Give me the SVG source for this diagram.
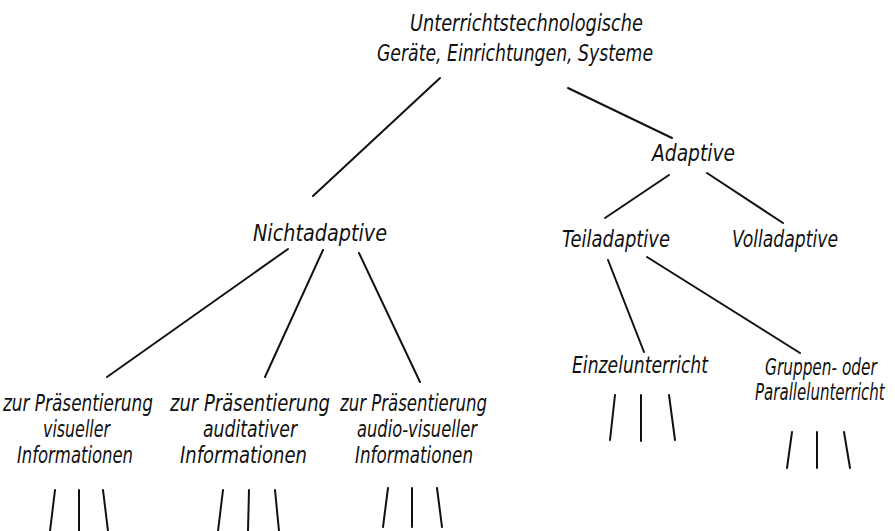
<svg xmlns="http://www.w3.org/2000/svg" width="895" height="531" viewBox="0 0 895 531">
  <style>
    .lbl { font-family: "Liberation Sans Narrow", "DejaVu Sans Condensed", "Liberation Sans", sans-serif; font-style: italic; font-size: 23px; fill: #111; }
    .edge { stroke: #111; stroke-width: 2; stroke-linecap: round; fill: none; }
  </style>
  <rect width="895" height="531" fill="#fff"/>

  <g id="connectors">
    <line class="edge" x1="440" y1="78" x2="313" y2="196"/>
    <line class="edge" x1="568" y1="88" x2="672" y2="138"/>
    <line class="edge" x1="669" y1="175" x2="605" y2="218"/>
    <line class="edge" x1="707" y1="173" x2="783" y2="223"/>
    <line class="edge" x1="608" y1="260" x2="644" y2="352"/>
    <line class="edge" x1="647" y1="257" x2="800" y2="353"/>
    <line class="edge" x1="288" y1="249" x2="107" y2="377"/>
    <line class="edge" x1="323" y1="250" x2="265" y2="377"/>
    <line class="edge" x1="359" y1="253" x2="420" y2="382"/>
    <!-- open-ended branches -->
    <line class="edge" x1="615" y1="395" x2="610" y2="440"/>
    <line class="edge" x1="641" y1="395" x2="641" y2="441"/>
    <line class="edge" x1="669" y1="395" x2="675" y2="440"/>
    <line class="edge" x1="792" y1="432" x2="787" y2="468"/>
    <line class="edge" x1="817" y1="432" x2="817" y2="468"/>
    <line class="edge" x1="844" y1="432" x2="850" y2="468"/>
    <line class="edge" x1="55" y1="490" x2="50" y2="531"/>
    <line class="edge" x1="79" y1="490" x2="79" y2="531"/>
    <line class="edge" x1="103" y1="490" x2="108" y2="531"/>
    <line class="edge" x1="223" y1="490" x2="218" y2="531"/>
    <line class="edge" x1="249" y1="490" x2="248" y2="531"/>
    <line class="edge" x1="275" y1="490" x2="279" y2="531"/>
    <line class="edge" x1="388" y1="488" x2="383" y2="527"/>
    <line class="edge" x1="412" y1="488" x2="412" y2="527"/>
    <line class="edge" x1="437" y1="488" x2="442" y2="527"/>
  </g>

  <g id="root">
    <text class="lbl" x="410" y="31" textLength="233" lengthAdjust="spacingAndGlyphs">Unterrichtstechnologische</text>
    <text class="lbl" x="377" y="61" textLength="276" lengthAdjust="spacingAndGlyphs">Geräte, Einrichtungen, Systeme</text>
  </g>
  <g id="nichtadaptive">
    <text class="lbl" x="253" y="241" textLength="134" lengthAdjust="spacingAndGlyphs">Nichtadaptive</text>
  </g>
  <g id="adaptive">
    <text class="lbl" x="652" y="161" textLength="83" lengthAdjust="spacingAndGlyphs">Adaptive</text>
  </g>
  <g id="teiladaptive">
    <text class="lbl" x="562" y="247" textLength="108" lengthAdjust="spacingAndGlyphs">Teiladaptive</text>
  </g>
  <g id="volladaptive">
    <text class="lbl" x="838" y="247" text-anchor="end" textLength="106" lengthAdjust="spacingAndGlyphs">Volladaptive</text>
  </g>
  <g id="einzelunterricht">
    <text class="lbl" x="572" y="373" textLength="136" lengthAdjust="spacingAndGlyphs">Einzelunterricht</text>
  </g>
  <g id="gruppenunterricht">
    <!-- narrowed horizontally so both lines sit inside the right margin -->
    <text class="lbl" transform="translate(765,375) scale(0.75,1)" x="0" y="0" textLength="149" lengthAdjust="spacingAndGlyphs">Gruppen- oder</text>
    <text class="lbl" transform="translate(755,400) scale(0.75,1)" x="0" y="0" textLength="173" lengthAdjust="spacingAndGlyphs">Parallelunterricht</text>
  </g>
  <g id="visuell">
    <text class="lbl" x="3" y="411" textLength="150" lengthAdjust="spacingAndGlyphs">zur Präsentierung</text>
    <text class="lbl" x="43" y="437" textLength="67" lengthAdjust="spacingAndGlyphs">visueller</text>
    <text class="lbl" x="17" y="463" textLength="116" lengthAdjust="spacingAndGlyphs">Informationen</text>
  </g>
  <g id="auditiv">
    <text class="lbl" x="170" y="411" textLength="160" lengthAdjust="spacingAndGlyphs">zur Präsentierung</text>
    <text class="lbl" x="203" y="437" textLength="94" lengthAdjust="spacingAndGlyphs">auditativer</text>
    <text class="lbl" x="180" y="463" textLength="127" lengthAdjust="spacingAndGlyphs">Informationen</text>
  </g>
  <g id="audiovisuell">
    <text class="lbl" x="340" y="411" textLength="147" lengthAdjust="spacingAndGlyphs">zur Präsentierung</text>
    <text class="lbl" x="357" y="437" textLength="120" lengthAdjust="spacingAndGlyphs">audio-visueller</text>
    <text class="lbl" x="355" y="463" textLength="118" lengthAdjust="spacingAndGlyphs">Informationen</text>
  </g>
</svg>
